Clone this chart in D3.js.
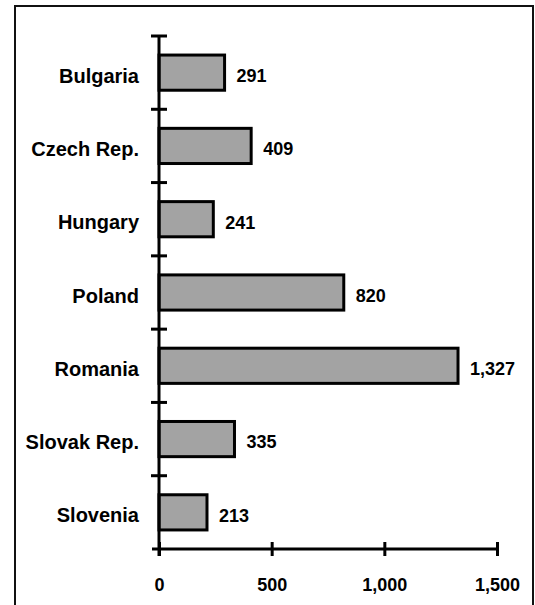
<!DOCTYPE html>
<html lang="en">
<head>
    <meta charset="UTF-8">
    <title>Chart</title>
    <script src="https://d3js.org/d3.v7.min.js"></script>
    <style>
        body { margin: 0; background: #fff; }
        text { font-family: "Liberation Sans", Arial, sans-serif; font-weight: bold; fill: #000; }
    </style>
</head>
<body>
    <svg width="535" height="605"></svg>
    <script>
        const countries = ['Bulgaria', 'Czech Rep.', 'Hungary', 'Poland', 'Romania', 'Slovak Rep.', 'Slovenia'];
        const values = [291, 409, 241, 820, 1327, 335, 213];
        const xTicks = [0, 500, 1000, 1500];

        const svg = d3.select('svg');

        // frame round the chart (runs off the bottom)
        svg.append('rect')
            .attr('x', 15).attr('y', 6)
            .attr('width', 518).attr('height', 640)
            .attr('fill', 'none')
            .attr('stroke', '#111')
            .attr('stroke-width', 2);

        const xScale = d3.scaleLinear()
                        .domain([0, 1500])
                        .range([159, 497]);

        const yScale = d3.scaleBand()
                        .domain(countries)
                        .range([36, 549])
                        .paddingInner(0.52)
                        .paddingOuter(0.26);

        const step = yScale.step();
        const half = yScale.bandwidth() / 2;
        const axisY = 549;

        // bars
        svg.selectAll('.bar')
            .data(values)
            .enter()
            .append('rect')
            .attr('class', 'bar')
            .attr('x', xScale(0))
            .attr('y', (d, i) => yScale(countries[i]))
            .attr('width', d => xScale(d) - xScale(0))
            .attr('height', yScale.bandwidth())
            .attr('fill', '#a3a3a3')
            .attr('stroke', '#000')
            .attr('stroke-width', 3);

        // value labels
        svg.selectAll('.val')
            .data(values)
            .enter()
            .append('text')
            .attr('class', 'val')
            .attr('x', d => xScale(d) + 12)
            .attr('y', (d, i) => yScale(countries[i]) + half + 3)
            .attr('dy', '0.35em')
            .attr('font-size', 18)
            .text(d => d3.format(',')(d));

        // x axis
        const xAxis = d3.axisBottom(xScale)
                        .tickValues(xTicks)
                        .tickFormat(d3.format(','))
                        .tickSizeOuter(0);
        const gx = svg.append('g').attr('transform', `translate(0, ${axisY})`).call(xAxis);
        gx.select('.domain').remove();
        gx.selectAll('.tick line')
            .attr('y1', -7).attr('y2', 7)
            .attr('stroke', '#000').attr('stroke-width', 3);
        gx.selectAll('.tick text')
            .attr('y', 36).attr('dy', '0.35em')
            .attr('font-size', 18);
        gx.append('line')
            .attr('x1', xScale(0) - 7).attr('x2', xScale(1500))
            .attr('stroke', '#000').attr('stroke-width', 3);

        // y axis: line, ticks on category boundaries, labels
        const bounds = countries.map(c => yScale(c) - step * yScale.paddingInner() / 2);
        svg.append('line')
            .attr('x1', xScale(0)).attr('x2', xScale(0))
            .attr('y1', bounds[0]).attr('y2', axisY + 7)
            .attr('stroke', '#000').attr('stroke-width', 3);
        svg.selectAll('.ytick')
            .data(bounds)
            .enter()
            .append('line')
            .attr('class', 'ytick')
            .attr('x1', xScale(0) - 8).attr('x2', xScale(0) + 8)
            .attr('y1', d => d).attr('y2', d => d)
            .attr('stroke', '#000').attr('stroke-width', 3);

        svg.selectAll('.cat')
            .data(countries)
            .enter()
            .append('text')
            .attr('class', 'cat')
            .attr('x', 139)
            .attr('y', d => yScale(d) + half + 3)
            .attr('dy', '0.35em')
            .attr('text-anchor', 'end')
            .attr('font-size', 20)
            .text(d => d);
    </script>
</body>
</html>
